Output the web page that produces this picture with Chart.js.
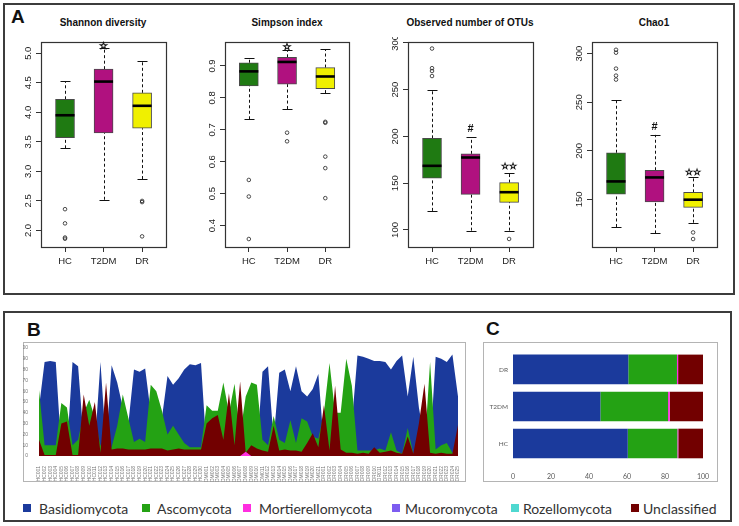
<!DOCTYPE html>
<html>
<head>
<meta charset="utf-8">
<script src="https://cdn.jsdelivr.net/npm/chart.js@4.4.1/dist/chart.umd.min.js"></script>
<style>
  body { margin: 0; width: 739px; height: 526px; background: #fff; position: relative; overflow: hidden; font-family: "Liberation Sans", Arial, sans-serif; }
  .panel { position: absolute; border: 2px solid #3c3c3c; box-sizing: border-box; }
  .inner { position: absolute; border: 1px solid #b4b4b4; box-sizing: border-box; }
  .tag { position: absolute; font-weight: bold; font-size: 19px; line-height: 19px; color: #111; }
  .title { position: absolute; width: 200px; text-align: center; font-weight: bold; font-size: 10px; line-height: 12px; color: #111; }
  canvas { position: absolute; }
  .leg { position: absolute; top: 499px; font-family: Lato, sans-serif; font-size: 14px; line-height: 20px; color: #333; white-space: nowrap; }
  .sq { position: absolute; top: 504px; width: 8px; height: 8px; }
</style>
</head>
<body>
<div class="panel" style="left:3px;top:3px;width:732px;height:292px"></div>
<div class="tag" style="left:11px;top:7px">A</div>
<div class="title" style="left:3px;top:17px">Shannon diversity</div>
<div class="title" style="left:187px;top:17px">Simpson index</div>
<div class="title" style="left:370px;top:17px">Observed number of OTUs</div>
<div class="title" style="left:554px;top:17px">Chao1</div>
<canvas id="shannon" width="168" height="243" style="left:6px;top:37px"></canvas>
<canvas id="simpson" width="167" height="243" style="left:190px;top:37px"></canvas>
<canvas id="otus" width="168" height="243" style="left:373px;top:37px"></canvas>
<canvas id="chao" width="168" height="243" style="left:557px;top:37px"></canvas>

<div class="panel" style="left:3px;top:311px;width:729px;height:211px"></div>
<div class="tag" style="left:27px;top:320px">B</div>
<div class="tag" style="left:486px;top:319px">C</div>
<div class="inner" style="left:23px;top:342px;width:443px;height:140px"></div>
<div class="inner" style="left:483px;top:342px;width:235px;height:140px"></div>
<canvas id="area" width="443" height="140" style="left:23px;top:342px"></canvas>
<canvas id="bars" width="235" height="140" style="left:483px;top:342px"></canvas>

<div class="sq" style="left:23px;background:#1b3a9c"></div><div class="leg" style="left:39px">Basidiomycota</div>
<div class="sq" style="left:142px;background:#24a214"></div><div class="leg" style="left:157px">Ascomycota</div>
<div class="sq" style="left:243px;background:#ff2ee0"></div><div class="leg" style="left:259px">Mortierellomycota</div>
<div class="sq" style="left:392px;background:#7d5cf0"></div><div class="leg" style="left:405px">Mucoromycota</div>
<div class="sq" style="left:511px;background:#4fd8d0"></div><div class="leg" style="left:523px">Rozellomycota</div>
<div class="sq" style="left:631px;background:#720000"></div><div class="leg" style="left:643px">Unclassified</div>

<script>
// ---------- A: alpha diversity box plots ----------
const groups = ["HC", "T2DM", "DR"];
const boxColors = ["#1f7a12", "#b0117f", "#f0f000"];

// each box: [lower whisker, Q1, median, Q3, upper whisker]
const shannonBox = [[3.39, 3.57, 3.95, 4.22, 4.53], [2.52, 3.65, 4.52, 4.73, 5.08], [2.87, 3.73, 4.11, 4.33, 4.86]];
const shannonOut = [[2.36, 2.12, 1.88, 1.86], [], [2.50, 2.48, 1.90]];
const shannonTicks = [2.0, 2.5, 3.0, 3.5, 4.0, 4.5, 5.0];
const shannonTickText = ["2.0", "2.5", "3.0", "3.5", "4.0", "4.5", "5.0"];
const shannonSig = ["", "☆", ""];
const shannonSigAt = [null, 5.12, null];

const simpsonBox = [[0.733, 0.8375, 0.883, 0.910, 0.926], [0.765, 0.843, 0.9125, 0.927, 0.949], [0.815, 0.829, 0.867, 0.895, 0.953]];
const simpsonOut = [[0.543, 0.491, 0.358], [0.691, 0.664], [0.725, 0.722, 0.616, 0.580, 0.486]];
const simpsonTicks = [0.4, 0.5, 0.6, 0.7, 0.8, 0.9];
const simpsonTickText = ["0.4", "0.5", "0.6", "0.7", "0.8", "0.9"];
const simpsonSig = ["", "☆", ""];
const simpsonSigAt = [null, 0.958, null];

const otuBox = [[120.4, 155.4, 168.6, 198, 250], [99.3, 138, 177.5, 181.4, 199.3], [99.3, 129.6, 140.4, 150.7, 161.4]];
const otuOut = [[294, 273, 270, 264.6], [], [90.4]];
const otuTicks = [100, 150, 200, 250, 300];
const otuTickText = ["100", "150", "200", "250", "300"];
const otuSig = ["", "#", "☆☆"];
const otuSigAt = [null, 208, 168];

const chaoBox = [[121.6, 155.5, 168.5, 198, 252], [115, 147.3, 172.6, 180, 216.4], [126, 141.8, 149.7, 157.2, 172.6]];
const chaoOut = [[304, 301, 284.6, 277.4, 273.3], [], [116, 109.2]];
const chaoTicks = [150, 200, 250, 300];
const chaoTickText = ["150", "200", "250", "300"];
const chaoSig = ["", "#", "☆☆"];
const chaoSigAt = [null, 225, 178];

function boxChart(id, box, out, tickVals, tickText, yMin, yMax, sig, sigAt) {
  const pos = [1, 2, 3];
  const extras = {
    id: "boxExtras",
    beforeDatasetsDraw(chart) {
      const { ctx, scales: { x, y } } = chart;
      ctx.save();
      ctx.strokeStyle = "#111";
      ctx.lineWidth = 1;
      box.forEach((b, i) => {
        const px = Math.round(x.getPixelForValue(pos[i])) + 0.5;
        ctx.setLineDash([3, 2.5]);
        ctx.beginPath();
        ctx.moveTo(px, y.getPixelForValue(b[0]));
        ctx.lineTo(px, y.getPixelForValue(b[1]));
        ctx.moveTo(px, y.getPixelForValue(b[3]));
        ctx.lineTo(px, y.getPixelForValue(b[4]));
        ctx.stroke();
        ctx.setLineDash([]);
        ctx.beginPath();
        [b[0], b[4]].forEach(v => {
          const py = Math.round(y.getPixelForValue(v)) + 0.5;
          ctx.moveTo(px - 5, py);
          ctx.lineTo(px + 5, py);
        });
        ctx.stroke();
      });
      ctx.restore();
    },
    afterDatasetsDraw(chart) {
      const { ctx, chartArea: a, scales: { x, y } } = chart;
      ctx.save();
      ctx.strokeStyle = "#000";
      ctx.lineWidth = 2.6;
      box.forEach((b, i) => {
        const px = x.getPixelForValue(pos[i]);
        const py = y.getPixelForValue(b[2]);
        ctx.beginPath();
        ctx.moveTo(px - 9.5, py);
        ctx.lineTo(px + 9.5, py);
        ctx.stroke();
      });
      ctx.lineWidth = 1.2;
      ctx.strokeStyle = "#333";
      ctx.strokeRect(Math.round(a.left) + 0.5, Math.round(a.top) + 0.5, Math.round(a.right - a.left), Math.round(a.bottom - a.top));
      // R style rotated y labels
      ctx.fillStyle = "#222";
      ctx.font = "9.5px 'Liberation Sans', Arial";
      ctx.textAlign = "center";
      ctx.textBaseline = "middle";
      tickVals.forEach((v, i) => {
        ctx.save();
        ctx.translate(a.left - 13, y.getPixelForValue(v));
        ctx.rotate(-Math.PI / 2);
        ctx.fillText(tickText[i], 0, 0);
        ctx.restore();
      });
      sig.forEach((s, i) => {
        if (!s) return;
        const px = x.getPixelForValue(pos[i]);
        const py = y.getPixelForValue(sigAt[i]);
        ctx.fillStyle = "#111";
        ctx.strokeStyle = "#111";
        if (s === "#") {
          ctx.font = "bold 11px 'Liberation Sans'";
          ctx.fillText(s, px, py);
        } else {
          ctx.font = s.length > 1 ? "bold 9px 'DejaVu Sans'" : "bold 10px 'DejaVu Sans'";
          ctx.lineWidth = 0.7;
          ctx.strokeText(s, px, py);
        }
      });
      ctx.restore();
    }
  };
  const grid = { display: true, drawOnChartArea: false, drawTicks: true, tickLength: 5, color: "#333", offset: false };
  return new Chart(document.getElementById(id), {
    type: "bar",
    data: {
      datasets: [
        {
          type: "bar",
          data: box.map((b, i) => ({ x: pos[i], y: [b[1], b[3]] })),
          backgroundColor: boxColors,
          borderColor: "#4a4a4a",
          borderWidth: 1,
          borderSkipped: false,
          barThickness: 19,
        },
        {
          type: "scatter",
          data: out.flatMap((o, i) => o.map(v => ({ x: pos[i], y: v }))),
          pointRadius: 1.8,
          borderColor: "#222",
          borderWidth: 0.8,
          backgroundColor: "rgba(0,0,0,0)",
        },
      ],
    },
    options: {
      responsive: false,
      animation: false,
      layout: { padding: { left: 0, right: 8, top: 5, bottom: 0 } },
      plugins: { legend: { display: false }, tooltip: { enabled: false } },
      scales: {
        x: {
          type: "linear",
          min: 0.377,
          max: 3.62,
          offset: false,
          afterBuildTicks: s => { s.ticks = pos.map(v => ({ value: v })); },
          afterFit: s => { s.height = 33; },
          grid: grid,
          border: { display: false },
          ticks: {
            callback: v => groups[v - 1],
            font: { family: "Liberation Sans", size: 9.5 },
            color: "#222",
            padding: 4,
            maxRotation: 0,
          },
        },
        y: {
          min: yMin,
          max: yMax,
          afterBuildTicks: s => { s.ticks = tickVals.map(v => ({ value: v })); },
          afterFit: s => { s.width = 35; },
          grid: grid,
          border: { display: false },
          ticks: { display: false },
        },
      },
    },
    plugins: [extras],
  });
}

boxChart("shannon", shannonBox, shannonOut, shannonTicks, shannonTickText, 1.72, 5.19, shannonSig, shannonSigAt);
boxChart("simpson", simpsonBox, simpsonOut, simpsonTicks, simpsonTickText, 0.333, 0.975, simpsonSig, simpsonSigAt);
boxChart("otus", otuBox, otuOut, otuTicks, otuTickText, 81.8, 301, otuSig, otuSigAt);
boxChart("chao", chaoBox, chaoOut, chaoTicks, chaoTickText, 101, 312, chaoSig, chaoSigAt);

// ---------- B: relative abundance per sample ----------
const samples = [
  "HC001", "HC002", "HC003", "HC004", "HC005", "HC006", "HC007", "HC008", "HC009", "HC010",
  "HC011", "HC012", "HC013", "HC014", "HC015", "HC016", "HC017", "HC018", "HC019", "HC020",
  "HC021", "HC022", "HC023", "HC024", "HC025", "HC026", "HC027", "HC028", "HC029", "HC030",
  "T2DM001", "T2DM002", "T2DM003", "T2DM004", "T2DM005", "T2DM006", "T2DM007", "T2DM008", "T2DM009", "T2DM010",
  "T2DM011", "T2DM012", "T2DM013", "T2DM014", "T2DM015", "T2DM016", "T2DM017", "T2DM018", "T2DM019", "T2DM020", "T2DM021",
  "DR001", "DR002", "DR003", "DR004", "DR005", "DR006", "DR007", "DR008", "DR009", "DR010",
  "DR011", "DR012", "DR013", "DR014", "DR015", "DR016", "DR017", "DR018", "DR019", "DR020",
  "DR021", "DR022", "DR023", "DR024", "DR025",
];
const basidio = [
  45, 87, 88, 87, 5, 5, 87, 83, 15, 10, 10, 87, 10, 84, 68, 45, 30, 80, 78, 81,
  40, 35, 35, 74, 66, 72, 80, 85, 84, 86,
  5, 5, 5, 5, 5, 5, 5, 5, 5, 5, 78, 83, 15, 77, 80, 60, 83, 60, 55, 62, 76,
  10, 5, 5, 30, 5, 30, 93, 92, 90, 88, 88, 87, 80, 88, 93, 55, 92, 45, 15, 5,
  92, 90, 87, 94, 55,
];
const asco = [
  61, 10, 10, 10, 49, 45, 10, 15, 40, 52, 35, 10, 5, 8, 28, 57, 35, 13, 16, 13,
  66, 60, 42, 20, 28, 20, 12, 8, 8, 8,
  47, 42, 42, 68, 40, 67, 20, 55, 68, 66, 15, 10, 37, 15, 12, 33, 12, 35, 32, 18, 16,
  40, 86, 40, 40, 90, 65, 5, 5, 5, 5, 7, 5, 22, 5, 2, 26, 2, 5, 5, 87,
  6, 10, 12, 3, 5,
];
const unclassified = [
  15, 1, 1, 1, 30, 32, 1, 1, 57, 28, 50, 3, 68, 6, 7, 7, 6, 6, 6, 6,
  7, 7, 7, 5, 6, 7, 6, 6, 6, 6,
  30, 35, 38, 15, 58, 10, 69, 3, 10, 7, 5, 4, 28, 5, 6, 5, 5, 4, 12, 21, 8,
  47, 5, 65, 6, 3, 3, 2, 3, 2, 8, 3, 4, 5, 3, 2, 18, 2, 30, 67, 3,
  2, 3, 2, 2, 29,
];
const mortierella = [
  0, 0, 0, 0, 0, 0, 0, 0, 0, 0, 0, 0, 0, 0, 0, 0, 0, 0, 0, 0,
  0, 0, 0, 0, 0, 0, 0, 0, 0, 0,
  0, 0, 0, 0, 0, 0, 0, 4, 0, 0, 0, 0, 0, 0, 0, 0, 0, 0, 0, 0, 0,
  0, 0, 0, 0, 0, 0, 0, 0, 0, 0, 0, 0, 0, 0, 0, 0, 0, 0, 0, 0,
  0, 0, 0, 0, 0,
];
const areaTicks = [0, 10, 20, 30, 40, 50, 60, 70, 80, 90, 100];

new Chart(document.getElementById("area"), {
  type: "line",
  data: {
    labels: samples,
    datasets: [
      { label: "Basidiomycota", data: basidio, order: 4, backgroundColor: "#1b3a9c" },
      { label: "Ascomycota", data: asco, order: 3, backgroundColor: "#24a214" },
      { label: "Unclassified", data: unclassified, order: 2, backgroundColor: "#720000" },
      { label: "Mortierellomycota", data: mortierella, order: 1, backgroundColor: "#ff2ee0" },
    ].map(d => ({ ...d, fill: "origin", borderWidth: 0, pointRadius: 0, tension: 0 })),
  },
  options: {
    responsive: false,
    animation: false,
    layout: { padding: { left: 0, right: 8, top: 6, bottom: 0 } },
    plugins: { legend: { display: false }, tooltip: { enabled: false } },
    scales: {
      x: {
        offset: false,
        grid: { display: false },
        border: { display: false },
        afterFit: s => { s.height = 26; },
        ticks: { autoSkip: false, minRotation: 90, maxRotation: 90, font: { size: 5, family: "Liberation Sans" }, color: "#777", padding: 2 },
      },
      y: {
        min: 0,
        max: 100,
        afterBuildTicks: s => { s.ticks = areaTicks.map(v => ({ value: v })); },
        afterFit: s => { s.width = 16; },
        grid: { display: false },
        border: { display: false },
        ticks: { font: { size: 5, family: "Liberation Sans" }, color: "#777", padding: 3 },
      },
    },
  },
});

// ---------- C: mean composition per group ----------
const cGroups = ["DR", "T2DM", "HC"];
const cBasidio = [60.7, 46.0, 60.4];
const cAsco = [25.6, 35.6, 26.1];
const cMort = [0.6, 0.9, 0.5];
const cMucoro = [0, 0, 0];
const cRozello = [0, 0, 0];
const cUnclass = [13.1, 17.5, 13.0];
const cTicks = [0, 20, 40, 60, 80, 100];

new Chart(document.getElementById("bars"), {
  type: "bar",
  data: {
    labels: cGroups,
    datasets: [
      { label: "Basidiomycota", data: cBasidio, backgroundColor: "#1b3a9c" },
      { label: "Ascomycota", data: cAsco, backgroundColor: "#24a214" },
      { label: "Mortierellomycota", data: cMort, backgroundColor: "#ff2ee0" },
      { label: "Mucoromycota", data: cMucoro, backgroundColor: "#7d5cf0" },
      { label: "Rozellomycota", data: cRozello, backgroundColor: "#4fd8d0" },
      { label: "Unclassified", data: cUnclass, backgroundColor: "#720000" },
    ],
  },
  options: {
    indexAxis: "y",
    responsive: false,
    animation: false,
    layout: { padding: { left: 0, right: 15, top: 2, bottom: 0 } },
    datasets: { bar: { categoryPercentage: 0.8, barPercentage: 1 } },
    plugins: { legend: { display: false }, tooltip: { enabled: false } },
    scales: {
      x: {
        stacked: true,
        min: 0,
        max: 100,
        afterBuildTicks: s => { s.ticks = cTicks.map(v => ({ value: v })); },
        afterFit: s => { s.height = 20; },
        grid: { display: false },
        border: { display: false },
        ticks: { font: { size: 7, family: "Lato" }, color: "#595959", padding: 3 },
      },
      y: {
        stacked: true,
        afterFit: s => { s.width = 30; },
        grid: { display: false, drawTicks: false },
        border: { display: false },
        ticks: { font: { size: 6.5, family: "Lato" }, color: "#595959", padding: 5 },
      },
    },
  },
});
</script>
</body>
</html>
